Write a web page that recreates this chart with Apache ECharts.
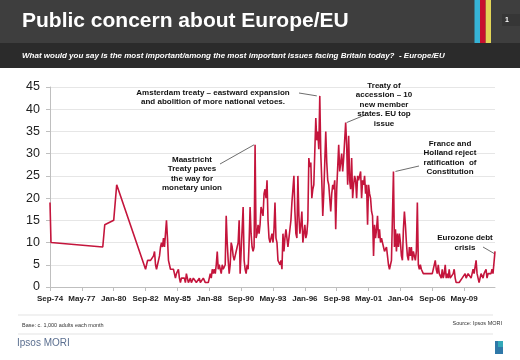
<!DOCTYPE html>
<html><head><meta charset="utf-8">
<script src="https://cdn.jsdelivr.net/npm/echarts@6/dist/echarts.min.js"></script>
<style>html,body{margin:0;padding:0;background:#fff}#c{width:520px;height:360px}</style>
</head><body><div id="c"></div>
<script>
// ---- Data (percentage naming Europe/EU as an important issue) ----
const earlyDates = ['1974-09','1974-10','1979-02','1979-04','1980-01','1980-04'];
const earlyValues = [19, 10, 9, 14, 15, 23];

const monthlyStart = '1982-09';
const values1982to1989 = [
  4,5,6,6,
  6,6,6,6,7,8,5,4,5,6,7,9,
  10,9,11,9,12,15,11,6,5,4,4,4,
  4,3,2,3,3,4,2,1,2,2,2,2,
  1,3,2,1,1,2,1,1,2,2,2,1,
  1,1,2,1,1,1,2,2,1,1,1,1,
  1,3,2,4,3,4,3,5,8,4,5,5,
  3,5,4,4,5,16,10,6,3,5,10,9
];
const values1990to1999 = [
  7,6,7,7,9,10,15,3,3,3,18,6,
  4,3,5,4,10,18,12,9,8,9,32,11,
  12,14,12,14,18,17,16,21,22,20,24,15,
  11,10,10,12,10,13,19,11,10,6,6,5,
  6,4,12,8,11,13,11,9,11,13,15,19,
  22,25,17,12,11,25,16,12,14,17,10,12,
  14,11,12,15,29,27,28,20,22,23,23,38,
  33,35,31,43,30,24,16,21,28,35,28,24,
  23,20,17,21,23,22,24,13,22,27,32,26,
  28,30,26,29,33,37,32,23,34,24,22,29
];
const values2000to2011 = [
  20,23,25,24,20,25,24,25,26,20,24,23,
  25,21,23,14,23,21,20,17,16,7,14,11,
  13,16,11,13,10,11,10,9,8,8,9,7,
  5,4,5,6,6,26,9,13,8,12,9,12,
  10,7,6,13,17,14,10,7,6,9,7,9,
  6,8,7,6,8,19,5,4,5,4,4,3,
  3,3,3,3,3,3,3,3,3,3,3,6,
  4,3,5,3,3,2,4,2,3,5,2,3,
  2,4,2,2,2,3,4,2,1,1,1,1,
  1,1,2,2,2,3,2,2,3,3,3,2,
  3,4,3,3,6,3,3,1,2,3,3,2,
  3,3,4,2,3,3,3,3,4,3,3,8
];

const tickLabels = ['Sep-74','May-77','Jan-80','Sep-82','May-85','Jan-88','Sep-90','May-93','Jan-96','Sep-98','May-01','Jan-04','Sep-06','May-09'];

const annotationDates = ['1997-04','1991-11','1999-06','2003-06','2011-12'];

// ---- Build series (months since Sep-74) ----
function monthIndex(s){ const [y,m] = s.split('-').map(Number); return (y-1974)*12 + (m-9); }
const seriesData = [];
earlyDates.forEach((d,i)=>seriesData.push([monthIndex(d), earlyValues[i]]));
const start = monthIndex(monthlyStart);
[].concat(values1982to1989, values1990to1999, values2000to2011).forEach((v,i)=>seriesData.push([start+i, v]));
const lastM = seriesData[seriesData.length-1][0];
const tickVals = tickLabels.map((_,i)=>i*32);

const FF = '"Liberation Sans", Arial, Helvetica, sans-serif';
function txt(x,y,text,font,fill,align,valign,lh){
  return {type:'text', x:x, y:y, silent:true, z:100,
    style:{text:text, font:font, fill:fill, align:align||'left', textAlign:align||'left',
      verticalAlign:valign||'middle', textVerticalAlign:valign||'middle', lineHeight:lh}};
}

const chart = echarts.init(document.getElementById('c'), null, {renderer:'canvas'});
chart.setOption({
  animation:false,
  backgroundColor:'#ffffff',
  grid:{left:50, right:25, top:87, bottom:73},
  xAxis:{type:'value', min:0, max:lastM, interval:32,
    axisLine:{show:true, lineStyle:{color:'#bfbfbf', width:1}},
    axisTick:{show:true, length:4, lineStyle:{color:'#bfbfbf'}, customValues:tickVals},
    axisLabel:{customValues:tickVals, formatter:(v)=>{const i=Math.round(v/32); return (v%32===0 && tickLabels[i])?tickLabels[i]:'';},
      fontSize:8, fontWeight:'bold', color:'#222', margin:8, fontFamily:FF},
    splitLine:{show:false}},
  yAxis:{type:'value', min:0, max:45, interval:5,
    axisLine:{show:true, lineStyle:{color:'#bfbfbf'}},
    axisTick:{show:true, length:4, lineStyle:{color:'#bfbfbf'}},
    axisLabel:{fontSize:12.5, color:'#222', margin:10, fontFamily:FF},
    splitLine:{show:true, lineStyle:{color:'#e6e6e6', width:1}}},
  series:[{type:'line', data:seriesData, showSymbol:false, symbol:'none',
    lineStyle:{color:'#c4153c', width:1.6}, itemStyle:{color:'#c4153c'}}],
  graphic:[]
});

// ---- Decorations / annotations ----
const p = (d)=>{ const m = monthIndex(d); const pt = seriesData.find(s=>s[0]===m); return chart.convertToPixel({gridIndex:0},[pt[0],pt[1]]); };
const pA = p(annotationDates[0]), pM = p(annotationDates[1]), pT = p(annotationDates[2]), pF = p(annotationDates[3]), pE = p(annotationDates[4]);
const ln = (x1,y1,x2,y2,col,w)=>({type:'line', silent:true, z:90, shape:{x1,y1,x2,y2}, style:{stroke:col||'#6e6e6e', lineWidth:w||1}});
const AF = 'bold 8px ' + FF;

const g = [
  {type:'rect', shape:{x:0,y:0,width:520,height:43}, style:{fill:'#3e3e3e'}, silent:true},
  {type:'rect', shape:{x:0,y:43,width:520,height:25}, style:{fill:'#2b2b2b'}, silent:true},
  {type:'rect', shape:{x:474.5,y:0,width:5.5,height:43}, style:{fill:'#36b3d6'}, silent:true},
  {type:'rect', shape:{x:480,y:0,width:5.7,height:43}, style:{fill:'#c8102e'}, silent:true},
  {type:'rect', shape:{x:485.7,y:0,width:5.3,height:43}, style:{fill:'#e2d557'}, silent:true},
  {type:'rect', shape:{x:502,y:14,width:18,height:12}, style:{fill:'#363636'}, silent:true},
  txt(507,20.5,'1','bold 7px '+FF,'#ffffff','center','middle'),
  txt(22,21,'Public concern about Europe/EU','bold 21px '+FF,'#ffffff','left','middle'),
  txt(22,55.5,'What would you say is the most important/among the most important issues facing Britain today?  - Europe/EU','italic bold 8px '+FF,'#ffffff','left','middle'),
  // annotations
  txt(213,88,'Amsterdam treaty \u2013 eastward expansion\nand abolition of more national vetoes.',AF,'#111','center','top',9),
  txt(192,154.5,'Maastricht\nTreaty paves\nthe way for\nmonetary union',AF,'#111','center','top',9.6),
  txt(384,81,'Treaty of\naccession \u2013 10\nnew member\nstates. EU top\nissue',AF,'#111','center','top',9.4),
  txt(450,138.5,'France and\nHolland reject\nratification  of\nConstitution',AF,'#111','center','top',9.6),
  txt(465,233,'Eurozone debt\ncrisis',AF,'#111','center','top',9.6),
  ln(299,93,pA[0]-3,pA[1]),
  ln(220,164,pM[0]-1,pM[1]),
  ln(pT[0]+1,pT[1],365,115),
  ln(pF[0]+2,pF[1],419,166),
  ln(483,247,pE[0]-1,pE[1]+2),
  // footer
  ln(18,315,493,315,'#dcdcdc',0.8),
  ln(18,334,493,334,'#dcdcdc',0.8),
  txt(22,325,'Base: c. 1,000 adults each month','5.5px '+FF,'#333','left','middle'),
  txt(502,323,'Source: Ipsos MORI','5.5px '+FF,'#333','right','middle'),
  txt(17,343.5,'Ipsos MORI','10px '+FF,'#5b6f90','left','middle'),
  {type:'rect', shape:{x:495,y:341,width:8,height:13}, style:{fill:'#2f78a8'}, silent:true},
  {type:'rect', shape:{x:498,y:341,width:5,height:6}, style:{fill:'#33a8b8'}, silent:true}
];
chart.setOption({graphic:g});
</script></body></html>
